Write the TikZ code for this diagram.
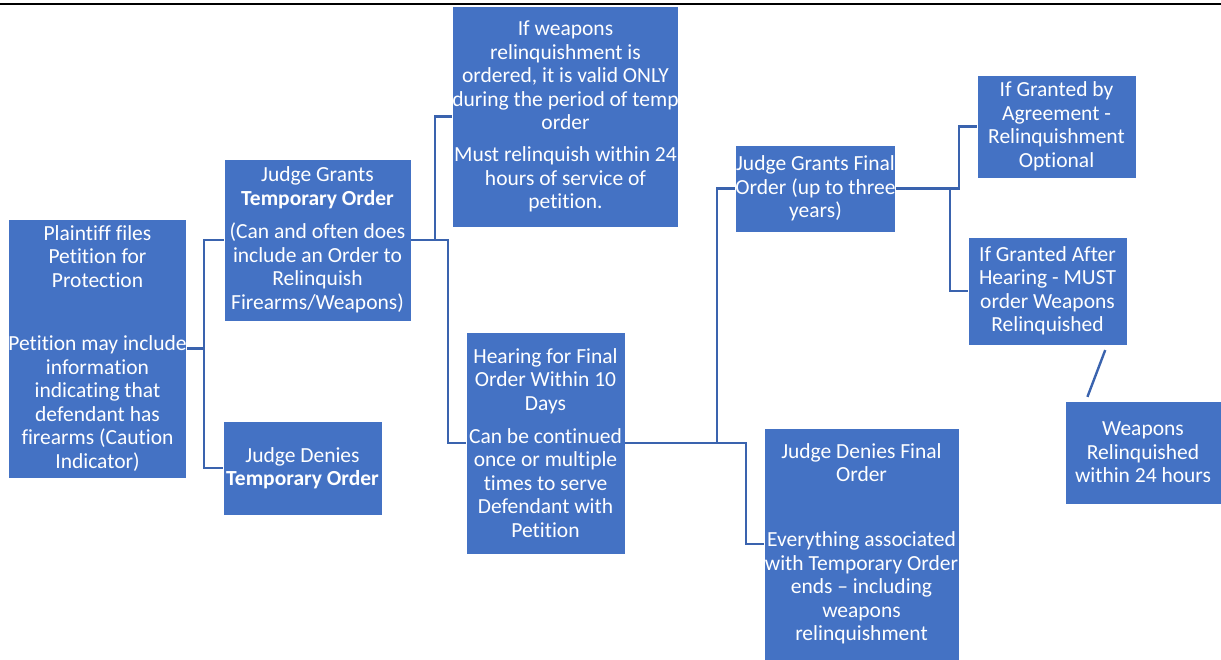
\documentclass[tikz,border=0pt]{standalone}
\usepackage{fontspec}
\setmainfont{Carlito}[Ligatures=NoCommon]
\definecolor{boxblue}{HTML}{4472C4}
\definecolor{linkblue}{HTML}{3A63AE}
\begin{document}
\begin{tikzpicture}[x=1pt,y=-1pt,
  box/.style={draw=white, line width=0.8pt, fill=boxblue, text=white, align=center, inner sep=0pt,
    font=\fontsize{21.5}{23.5}\selectfont},
  link/.style={draw=linkblue, line width=2.4pt}]
\useasboundingbox (0,0) rectangle (1221,660);
\draw[black, line width=2pt] (0,3.8) -- (1221,3.8);

\node[box, minimum width=177pt, minimum height=259pt] (plaintiff) at (97.5,348.5)
  {Plaintiff files\\Petition for\\Protection\\[40pt]Petition may include\\information\\indicating that\\defendant has\\firearms (Caution\\Indicator)};
\node[box, minimum width=187pt, minimum height=162pt] (grantT) at (317.5,240)
  {Judge Grants\\\textbf{Temporary Order}\\[10pt](Can and often does\\include an Order to\\Relinquish\\Firearms/Weapons)};
\node[box, minimum width=159pt, minimum height=94pt] (denyT) at (302.5,468)
  {Judge Denies\\\textbf{Temporary Order}};
\node[box, minimum width=225pt, minimum height=221pt] (weapons) at (565.5,116.5)
  {If weapons\\relinquishment is\\ordered, it is valid ONLY\\during the period of temp\\order\\[8.5pt]Must relinquish within 24\\hours of service of\\petition.};
\node[box, minimum width=159pt, minimum height=222pt] (hearing) at (545.5,443)
  {Hearing for Final\\Order Within 10\\Days\\[9.5pt]Can be continued\\once or multiple\\times to serve\\Defendant with\\Petition};
\node[box, minimum width=159pt, minimum height=87pt] (grantF) at (815.5,188.5)
  {Judge Grants Final\\Order (up to three\\years)};
\node[box, minimum width=159pt, minimum height=103pt] (agree) at (1056.5,126.5)
  {If Granted by\\Agreement -\\Relinquishment\\Optional};
\node[box, minimum width=159pt, minimum height=108pt] (after) at (1047.5,291)
  {If Granted After\\Hearing - MUST\\order Weapons\\Relinquished};
\node[box, minimum width=156pt, minimum height=103pt] (weap24) at (1143,452.5)
  {Weapons\\Relinquished\\within 24 hours};
\node[box, minimum width=195pt, minimum height=232pt] (denyF) at (861.5,544)
  {Judge Denies Final\\Order\\[41.5pt]Everything associated\\with Temporary Order\\ends -- including\\weapons\\relinquishment};

% connectors
\coordinate (j1) at (204,348.5);
\draw[link] (plaintiff.east) -- (j1);
\draw[link] (grantT.west) -- (grantT.west -| j1) -- (denyT.west -| j1) -- (denyT.west);

\coordinate (j2a) at (435,240);
\coordinate (j2b) at (448,240);
\draw[link] (grantT.east) -- (j2b) -- (hearing.west -| j2b) -- (hearing.west);
\draw[link] (j2a) -- (weapons.west -| j2a) -- (weapons.west);

\coordinate (j3a) at (717,443);
\coordinate (j3b) at (746,443);
\draw[link] (hearing.east) -- (j3b) -- (denyF.west -| j3b) -- (denyF.west);
\draw[link] (j3a) -- (grantF.west -| j3a) -- (grantF.west);

\coordinate (j4a) at (950,188.5);
\coordinate (j4b) at (959,188.5);
\draw[link] (grantF.east) -- (j4b) -- (agree.west -| j4b) -- (agree.west);
\draw[link] (j4a) -- (after.west -| j4a) -- (after.west);

\draw[link, shorten <=5pt, shorten >=4pt] ([xshift=59.5pt]after.south) -- ([xshift=-57pt]weap24.north);
\end{tikzpicture}
\end{document}
